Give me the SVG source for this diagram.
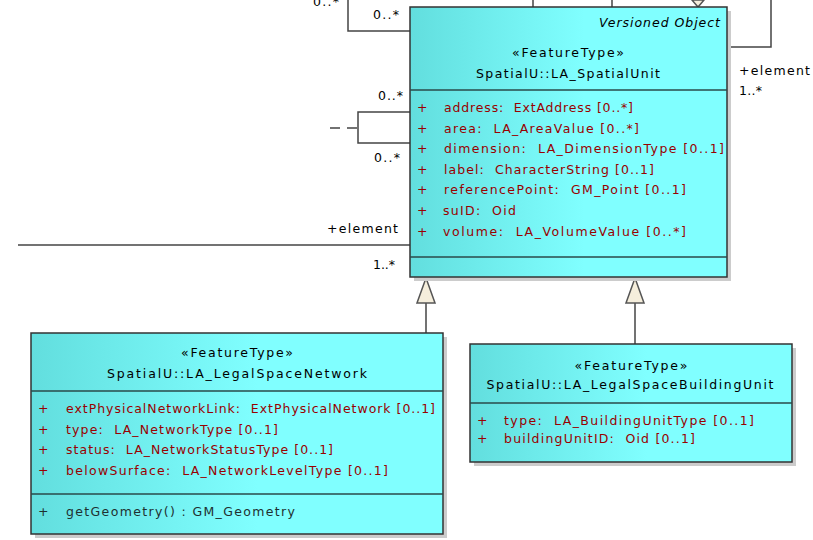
<svg xmlns="http://www.w3.org/2000/svg" width="813" height="540" viewBox="0 0 813 540" xml:space="preserve">
<defs>
<linearGradient id="g" x1="0" y1="0" x2="1" y2="0">
<stop offset="0" stop-color="#62DEDE"/>
<stop offset="0.55" stop-color="#80FFFF"/>
<stop offset="1" stop-color="#80FFFF"/>
</linearGradient>
<style>
text{font-family:"DejaVu Sans","Liberation Sans",sans-serif;font-size:12.5px;white-space:pre;}
.hd{fill:#000;text-anchor:middle;}
.at{fill:#990000;}
.op{fill:#1f3030;}
.lb{fill:#000;}
.box{fill:url(#g);stroke:#333;stroke-width:1.5;}
.sh{fill:#cccccc;}
.sep{stroke:#2a4a4a;stroke-width:1.5;}
.ln{stroke:#444;stroke-width:1.5;fill:none;}
.tri{fill:#f5eedc;stroke:#555;stroke-width:1.5;}
</style>
</defs>
<rect width="813" height="540" fill="#fff"/>
<g id="connectors">
<polyline class="ln" points="348,0 348,31 410,31"/>
<line class="ln" x1="533" y1="0" x2="533" y2="7"/>
<line class="ln" x1="612" y1="0" x2="612" y2="7"/>
<polygon class="tri" points="692,0 698,7 704,0"/>
<polyline class="ln" points="727,47 771,47 771,0"/>
<polyline class="ln" points="410,112 358,112 358,143 410,143"/>
<line class="ln" x1="330" y1="128" x2="358" y2="128" stroke-dasharray="10,7"/>
<line class="ln" x1="18" y1="245" x2="410" y2="245"/>
<line class="ln" x1="426" y1="303" x2="426" y2="333"/>
<polygon class="tri" points="426,278 417,303 435,303"/>
<line class="ln" x1="635" y1="303" x2="635" y2="344"/>
<polygon class="tri" points="635,278 626,303 644,303"/>
<text class="lb" x="313" y="6" textLength="26" lengthAdjust="spacing">0..*</text>
<text class="lb" x="373" y="19" textLength="26" lengthAdjust="spacing">0..*</text>
<text class="lb" x="739" y="75" textLength="71" lengthAdjust="spacing">+element</text>
<text class="lb" x="739" y="95" textLength="23" lengthAdjust="spacing">1..*</text>
<text class="lb" x="378" y="100" textLength="25" lengthAdjust="spacing">0..*</text>
<text class="lb" x="374" y="162" textLength="26" lengthAdjust="spacing">0..*</text>
<text class="lb" x="327" y="233" textLength="71" lengthAdjust="spacing">+element</text>
<text class="lb" x="373" y="269" textLength="22" lengthAdjust="spacing">1..*</text>
</g>
<g id="LA_SpatialUnit">
<rect class="sh" x="414" y="11" width="317" height="270"/>
<rect class="box" x="410" y="7" width="317" height="270"/>
<text x="599" y="27" font-style="italic" textLength="121" lengthAdjust="spacing">Versioned Object</text>
<text class="hd" x="568" y="57" textLength="112" lengthAdjust="spacing">«FeatureType»</text>
<text class="hd" x="568" y="78" textLength="184" lengthAdjust="spacing">SpatialU::LA_SpatialUnit</text>
<line class="sep" x1="410" y1="90" x2="727" y2="90"/>
<g class="at">
<text x="417" y="112">+</text><text x="444" y="112" textLength="189" lengthAdjust="spacing">address:  ExtAddress [0..*]</text>
<text x="417" y="133">+</text><text x="444" y="133" textLength="195" lengthAdjust="spacing">area:  LA_AreaValue [0..*]</text>
<text x="417" y="153">+</text><text x="444" y="153" textLength="280" lengthAdjust="spacing">dimension:  LA_DimensionType [0..1]</text>
<text x="417" y="174">+</text><text x="444" y="174" textLength="210" lengthAdjust="spacing">label:  CharacterString [0..1]</text>
<text x="417" y="194">+</text><text x="444" y="194" textLength="242" lengthAdjust="spacing">referencePoint:  GM_Point [0..1]</text>
<text x="417" y="215">+</text><text x="443" y="215" textLength="73" lengthAdjust="spacing">suID:  Oid</text>
<text x="417" y="236">+</text><text x="443" y="236" textLength="243" lengthAdjust="spacing">volume:  LA_VolumeValue [0..*]</text>
</g>
<line class="sep" x1="410" y1="257" x2="727" y2="257"/>
</g>
<g id="LA_LegalSpaceNetwork">
<rect class="sh" x="35" y="337" width="412" height="201"/>
<rect class="box" x="31" y="333" width="412" height="201"/>
<text class="hd" x="237" y="357" textLength="112" lengthAdjust="spacing">«FeatureType»</text>
<text class="hd" x="237" y="378" textLength="260" lengthAdjust="spacing">SpatialU::LA_LegalSpaceNetwork</text>
<line class="sep" x1="31" y1="391" x2="443" y2="391"/>
<g class="at">
<text x="38" y="413">+</text><text x="66" y="413" textLength="369" lengthAdjust="spacing">extPhysicalNetworkLink:  ExtPhysicalNetwork [0..1]</text>
<text x="38" y="434">+</text><text x="66" y="434" textLength="212" lengthAdjust="spacing">type:  LA_NetworkType [0..1]</text>
<text x="38" y="454">+</text><text x="66" y="454" textLength="267" lengthAdjust="spacing">status:  LA_NetworkStatusType [0..1]</text>
<text x="38" y="475">+</text><text x="66" y="475" textLength="322" lengthAdjust="spacing">belowSurface:  LA_NetworkLevelType [0..1]</text>
</g>
<line class="sep" x1="31" y1="494" x2="443" y2="494"/>
<text class="op" x="38" y="516">+</text><text class="op" x="66" y="516" textLength="229" lengthAdjust="spacing">getGeometry() : GM_Geometry</text>
</g>
<g id="LA_LegalSpaceBuildingUnit">
<rect class="sh" x="474" y="348" width="322" height="118"/>
<rect class="box" x="470" y="344" width="322" height="118"/>
<text class="hd" x="631" y="370" textLength="113" lengthAdjust="spacing">«FeatureType»</text>
<text class="hd" x="630" y="389" textLength="287" lengthAdjust="spacing">SpatialU::LA_LegalSpaceBuildingUnit</text>
<line class="sep" x1="470" y1="403" x2="792" y2="403"/>
<g class="at">
<text x="477" y="425">+</text><text x="504" y="425" textLength="250" lengthAdjust="spacing">type:  LA_BuildingUnitType [0..1]</text>
<text x="477" y="443">+</text><text x="504" y="443" textLength="191" lengthAdjust="spacing">buildingUnitID:  Oid [0..1]</text>
</g>
</g>
</svg>
